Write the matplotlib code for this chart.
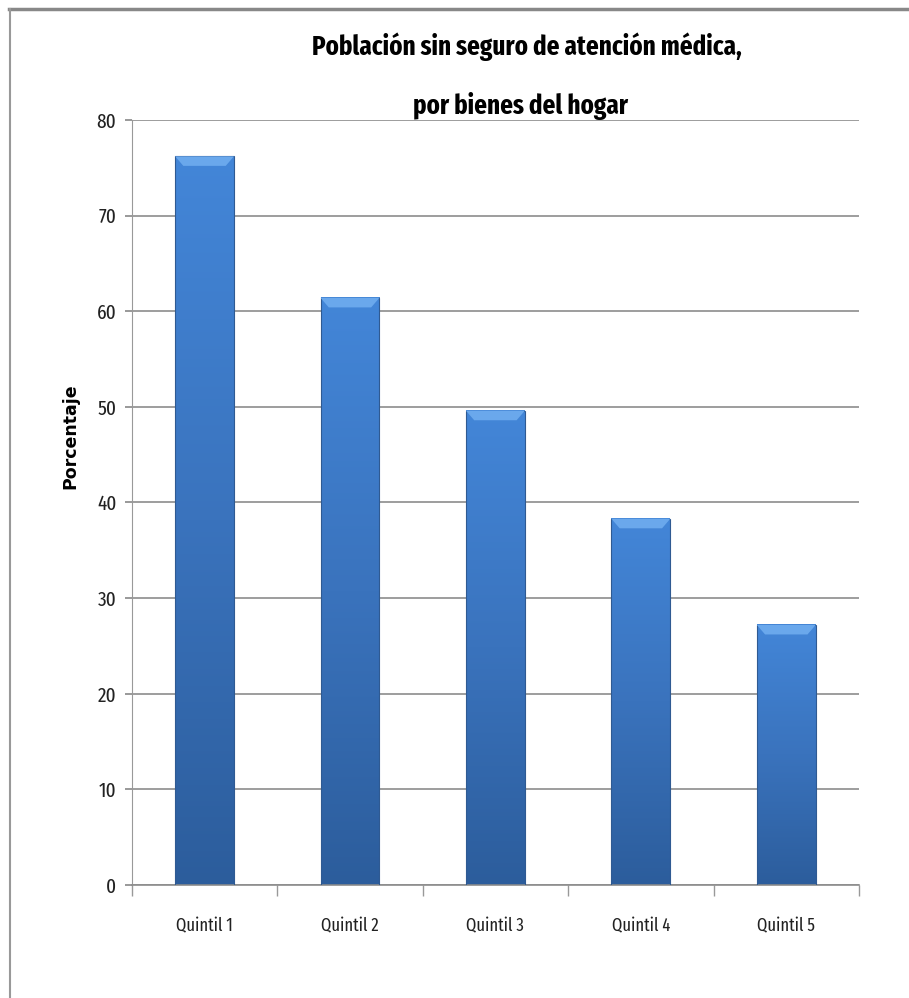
import numpy as np
import matplotlib
matplotlib.use("Agg")
from matplotlib import pyplot as plt
from matplotlib.lines import Line2D
from matplotlib.colors import LinearSegmentedColormap

########## data ##########
categories = ["Quintil 1", "Quintil 2", "Quintil 3", "Quintil 4", "Quintil 5"]
values = [76.2, 61.4, 49.6, 38.3, 27.2]
yticks = [0, 10, 20, 30, 40, 50, 60, 70, 80]

title_lines = ["Población sin seguro de atención médica,", "por bienes del hogar"]
ylabel = "Porcentaje"

narrow = ["Fira Sans Extra Condensed", "Liberation Sans", "DejaVu Sans"]

fig = plt.figure(figsize=(9.09, 9.98), dpi=100)
ax = fig.add_axes([0.145, 0.1132, 0.80, 0.7666])

x = np.arange(len(categories))
width = 0.405

########## bars with a vertical gradient and a light bevel on top ##########
cmap = LinearSegmentedColormap.from_list("bar", ["#2c5d9c", "#3a73bd", "#4386d8"])
grad = np.linspace(0, 1, 256).reshape(-1, 1)

bars = ax.bar(x, values, width=width, color="none", edgecolor="#2f5a92", linewidth=0.8, zorder=3)
for b, v in zip(bars, values):
    x0 = b.get_x()
    ax.imshow(grad, cmap=cmap, aspect="auto", origin="lower",
              extent=[x0, x0 + width, 0, v], zorder=2)
    ax.fill([x0, x0 + width, x0 + width * 0.86, x0 + width * 0.14],
            [v, v, v - 1.0, v - 1.0], color="#6aa8ec", lw=0, zorder=3)

########## axes ##########
ax.set_xlim(-0.5, len(categories) - 0.5)
ax.set_ylim(0, 80)
ax.set_yticks(yticks)
ax.set_yticklabels([str(t) for t in yticks], fontsize=15, family=narrow, color="#222222")
ax.set_xticks(x)
ax.set_xticklabels(categories, fontsize=13, family=narrow, color="#222222")
ax.tick_params(axis="x", length=0, pad=23)
ax.tick_params(axis="y", length=5, color="#888888", width=1.2, pad=6)

ax.set_xticks(np.arange(-0.5, len(categories)), minor=True)
ax.tick_params(axis="x", which="minor", length=8, color="#999999", width=1)

ax.yaxis.grid(True, color="#8c8c8c", linewidth=1.2, zorder=0)
ax.set_axisbelow(True)
for s in ["top", "right"]:
    ax.spines[s].set_visible(False)
ax.spines["left"].set_color("#999999")
ax.spines["bottom"].set_color("#8c8c8c")
ax.spines["bottom"].set_linewidth(1.2)

fig.text(0.077, 0.563, ylabel, rotation=90, fontsize=12.5, fontweight="bold",
         family="DejaVu Sans", ha="center", va="center")

fig.text(0.58, 0.953, title_lines[0], fontsize=19.5, fontweight="bold",
         family=narrow, ha="center", va="center")
fig.text(0.573, 0.894, title_lines[1], fontsize=19.5, fontweight="bold",
         family=narrow, ha="center", va="center")

########## frame lines of the original chart area ##########
fig.add_artist(Line2D([0.01, 1.0], [0.9905, 0.9905], color="#888888", lw=2.5))
fig.add_artist(Line2D([0.0105, 0.0105], [0.0, 0.9905], color="#999999", lw=1.5))

fig.savefig("out.png", dpi=100)
